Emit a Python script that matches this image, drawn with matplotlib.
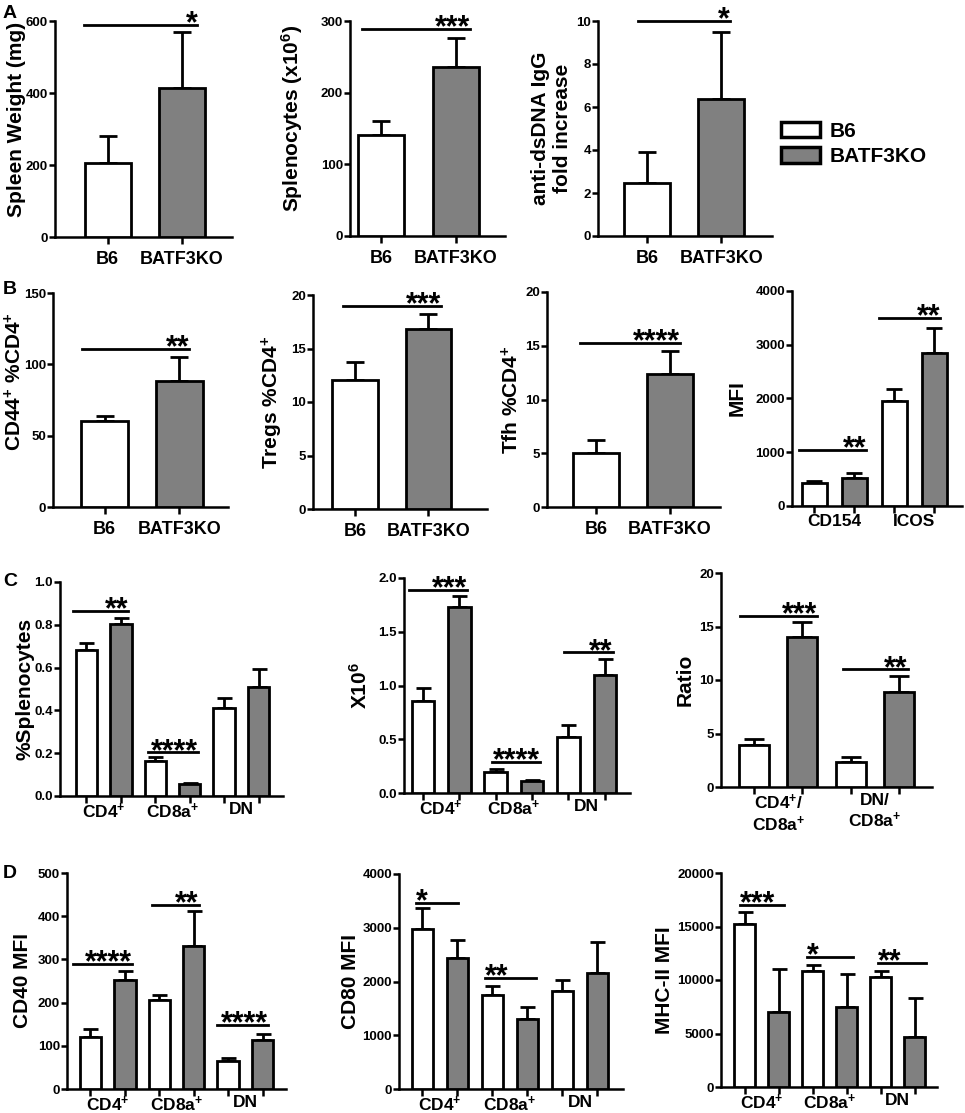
import numpy as np
import matplotlib
matplotlib.use("Agg")
import matplotlib.pyplot as plt
from matplotlib.patches import Patch

plt.rcParams['font.family'] = ['Liberation Sans', 'DejaVu Sans']
plt.rcParams['font.weight'] = 'bold'
plt.rcParams['axes.labelweight'] = 'bold'
plt.rcParams['mathtext.fontset'] = 'custom'
plt.rcParams['mathtext.bf'] = 'Liberation Sans:bold'
plt.rcParams['mathtext.rm'] = 'Liberation Sans:bold'
plt.rcParams['mathtext.default'] = 'bf'

W, H = 965, 1113
WHITE, GREY = 'white', '#808080'

# ---- data ----
groups2 = ['B6', 'BATF3KO']
cell_groups = ['CD4$^{+}$', 'CD8a$^{+}$', 'DN']
ratio_groups = ['CD4$^{+}$/\nCD8a$^{+}$', 'DN/\nCD8a$^{+}$']
mfi_groups = ['CD154', 'ICOS']

spleen_wt = [205, 415];            spleen_wt_err = [75, 155]
splenocytes = [141, 236];          splenocytes_err = [19, 40]
dsdna = [2.45, 6.35];              dsdna_err = [1.45, 3.15]
cd44 = [60, 88];                   cd44_err = [4, 17]
tregs = [12.1, 16.8];              tregs_err = [1.6, 1.4]
tfh = [5.0, 12.4];                 tfh_err = [1.2, 2.1]
mfi = [430, 530, 1960, 2850];      mfi_err = [30, 80, 220, 470]
pct_spl = [0.68, 0.805, 0.165, 0.055, 0.41, 0.51]
pct_spl_err = [0.035, 0.025, 0.015, 0.007, 0.05, 0.085]
count = [0.86, 1.73, 0.20, 0.11, 0.52, 1.10]
count_err = [0.12, 0.10, 0.02, 0.015, 0.115, 0.15]
ratio = [3.95, 14.0, 2.35, 8.9]
ratio_err = [0.5, 1.4, 0.5, 1.5]
cd40 = [120, 253, 205, 330, 65, 113]
cd40_err = [18, 20, 13, 82, 7, 15]
cd80 = [2980, 2430, 1750, 1300, 1830, 2150]
cd80_err = [380, 350, 170, 230, 200, 590]
mhc2 = [15200, 7050, 10850, 7480, 10280, 4680]
mhc2_err = [1150, 3980, 550, 3080, 560, 3640]

fig = plt.figure(figsize=(W / 100, H / 100), dpi=100)


def panel(box, xlim, ymax, yticks, vals, errs, ylabel, label_xy, sigs,
          labels, label_pos, capsize=6.5, ytickfmt=None, lab_pad=4):
    x0, x1, yb, yt = box
    ax = fig.add_axes([x0 / W, 1 - yb / H, (x1 - x0) / W, (yb - yt) / H])
    n = len(vals)
    pos = np.arange(n)
    colors = [WHITE if i % 2 == 0 else GREY for i in range(n)]
    ax.errorbar(pos, vals, yerr=[np.zeros(n), errs], fmt='none', ecolor='black',
                elinewidth=2, capsize=capsize, capthick=2, zorder=2)
    ax.bar(pos, vals, width=0.62, color=colors, edgecolor='black', linewidth=2, zorder=3)
    ax.set_xlim(*xlim)
    ax.set_ylim(0, ymax)
    ax.set_yticks(yticks)
    if ytickfmt:
        ax.set_yticklabels([ytickfmt.format(t) for t in yticks])
    for s in ['top', 'right']:
        ax.spines[s].set_visible(False)
    for s in ['left', 'bottom']:
        ax.spines[s].set_linewidth(1.8)
    ax.tick_params(axis='y', labelsize=9.5, length=4, width=1.8, pad=1)
    ax.tick_params(axis='x', which='major', length=5, width=1.8)
    ax.set_xticks(pos)
    if len(labels) == n:
        ax.set_xticklabels(labels, fontsize=13)
        ax.tick_params(axis='x', which='major', pad=5)
    else:
        ax.set_xticklabels([''] * n)
        ax.set_xticks(label_pos, minor=True)
        ax.set_xticklabels(labels, minor=True, fontsize=12.5)
        ax.tick_params(axis='x', which='minor', length=0, pad=lab_pad)
    lx, ly = label_xy
    ax.set_ylabel(ylabel, fontsize=15, va='center')
    ax.yaxis.set_label_coords((lx - x0) / (x1 - x0),
                              0.5 if ly is None else (yb - ly) / (yb - yt))
    for xs, xe, y, stars, ha in sigs:
        ax.plot([xs, xe], [y, y], color='black', lw=2, clip_on=False)
        ax.annotate(stars, xy=(xe if ha == 'right' else xs, y), xytext=(0, -5.5),
                    textcoords='offset points', ha=ha, va='baseline',
                    fontsize=22, annotation_clip=False)
    return ax


# ---- row A ----
panel((55, 232, 237, 21), (-0.71, 1.68), 600, [0, 200, 400, 600], spleen_wt, spleen_wt_err,
      'Spleen Weight (mg)', (17, 119), [(-0.32, 1.21, 590, '*', 'right')], groups2, None)
panel((350, 505, 236, 21), (-0.41, 1.65), 300, [0, 100, 200, 300], splenocytes, splenocytes_err,
      'Splenocytes (x10$^{6}$)', (292, 118), [(-0.25, 1.19, 289, '***', 'right')], groups2, None)
panel((598, 772, 236, 21), (-0.66, 1.68), 10, [0, 2, 4, 6, 8, 10], dsdna, dsdna_err,
      'anti-dsDNA IgG\nfold increase', (551, None), [(-0.12, 1.11, 10, '*', 'right')],
      groups2, None)

# ---- row B ----
panel((53, 228, 507, 293), (-0.69, 1.65), 150, [0, 50, 100, 150], cd44, cd44_err,
      'CD44$^{+}$ %CD4$^{+}$', (15, 382), [(-0.30, 1.13, 111, '**', 'right')], groups2, None)
panel((313, 487, 509, 295), (-0.57, 1.80), 20, [0, 5, 10, 15, 20], tregs, tregs_err,
      'Tregs %CD4$^{+}$', (272, None), [(-0.16, 1.18, 19, '***', 'right')], groups2, None)
panel((547, 720, 507, 292), (-0.66, 1.68), 20, [0, 5, 10, 15, 20], tfh, tfh_err,
      'Tfh %CD4$^{+}$', (512, None), [(-0.22, 1.14, 15.3, '****', 'right')], groups2, None)
panel((792, 962, 506, 291), (-0.56, 3.69), 4000, [0, 1000, 2000, 3000, 4000], mfi, mfi_err,
      'MFI', (737, None), [(-0.39, 1.29, 1040, '**', 'right'), (1.61, 3.14, 3500, '**', 'right')],
      mfi_groups, [0.5, 2.5], capsize=6, lab_pad=6)

# ---- row C ----
panel((60, 283, 796, 582), (-0.77, 5.71), 1.0, [0, 0.2, 0.4, 0.6, 0.8, 1.0], pct_spl, pct_spl_err,
      '%Splenocytes', (25, None),
      [(-0.39, 1.21, 0.865, '**', 'right'), (1.79, 3.24, 0.205, '****', 'right')],
      cell_groups, [0.5, 2.5, 4.5], capsize=5.4, ytickfmt='{:.1f}')
panel((404, 630, 793, 578), (-0.52, 5.69), 2.0, [0, 0.5, 1.0, 1.5, 2.0], count, count_err,
      'X10$^{6}$', (360, None),
      [(-0.38, 1.21, 1.89, '***', 'right'), (1.90, 3.21, 0.29, '****', 'right'),
       (3.87, 5.22, 1.31, '**', 'right')],
      cell_groups, [0.5, 2.5, 4.5], capsize=5.4, ytickfmt='{:.1f}')
panel((721, 932, 787, 573), (-0.68, 3.68), 20, [0, 5, 10, 15, 20], ratio, ratio_err,
      'Ratio', (685, None),
      [(-0.29, 1.30, 16, '***', 'right'), (1.84, 3.18, 11, '**', 'right')],
      ratio_groups, [0.5, 2.5], capsize=7)

# ---- row D ----
panel((67, 286, 1089, 873), (-0.68, 5.68), 500, [0, 100, 200, 300, 400, 500], cd40, cd40_err,
      'CD40 MFI', (23, None),
      [(-0.51, 1.21, 290, '****', 'right'), (1.79, 3.15, 426, '**', 'right'),
       (3.68, 5.16, 148, '****', 'right')],
      cell_groups, [0.5, 2.5, 4.5], capsize=5.4)
panel((399, 623, 1089, 874), (-0.67, 5.73), 4000, [0, 1000, 2000, 3000, 4000], cd80, cd80_err,
      'CD80 MFI', (350, None),
      [(-0.19, 1.01, 3460, '*', 'left'), (1.79, 3.24, 2065, '**', 'left')],
      cell_groups, [0.5, 2.5, 4.5], capsize=5.4)
panel((721, 937, 1087, 873), (-0.69, 5.65), 20000, [0, 5000, 10000, 15000, 20000], mhc2, mhc2_err,
      'MHC-II MFI', (665, None),
      [(-0.13, 1.16, 17000, '***', 'left'), (1.83, 3.18, 12150, '*', 'left'),
       (3.91, 5.32, 11590, '**', 'left')],
      cell_groups, [0.5, 2.5, 4.5], capsize=5.4)

# legend
handles = [Patch(facecolor=WHITE, edgecolor='black', linewidth=2.5),
           Patch(facecolor=GREY, edgecolor='black', linewidth=2.5)]
fig.legend(handles, groups2, loc='upper left', bbox_to_anchor=(781 / W, 1 - 122 / H),
           frameon=False, fontsize=15, handlelength=1.85, handleheight=0.75,
           handletextpad=0.5, labelspacing=0.3, borderpad=0, borderaxespad=0)

# panel letters
for letter, y in [('A', 14), ('B', 290), ('C', 582), ('D', 874)]:
    fig.text(3 / W, 1 - y / H, letter, fontsize=14, va='center', ha='left')

fig.savefig('out.png', dpi=100)
